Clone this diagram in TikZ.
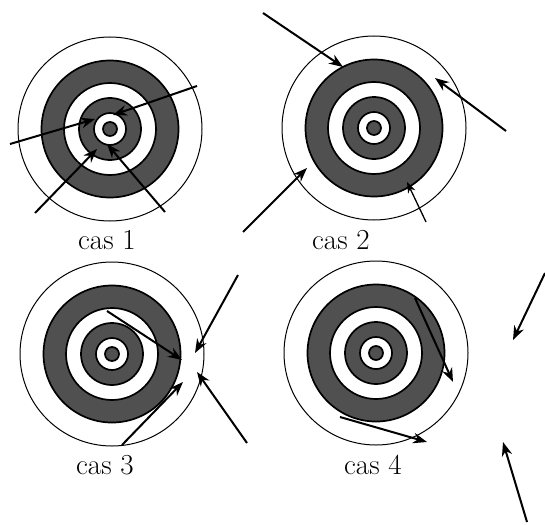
\documentclass[tikz,border=0pt]{standalone}
\usetikzlibrary{arrows.meta}
\definecolor{ringgray}{RGB}{80,80,80}
\tikzset{
  outerring/.style={line width=1pt},
  band/.style={line width=1.7pt},
  shot/.style={line width=2pt, -{Stealth[length=14pt,width=10.5pt,inset=4.5pt]}},
  thinshot/.style={line width=1.3pt, -{Stealth[length=11pt,width=8pt,inset=3.5pt]}},
  caslabel/.style={anchor=base, inner sep=0pt, font=\fontsize{29}{35}\selectfont},
  target/.pic={
    \draw[outerring] (0,0) circle[radius=92];
    \draw[band, fill=ringgray] (0,0) circle[radius=68.5];
    \draw[band, fill=white] (0,0) circle[radius=46];
    \draw[band, fill=ringgray] (0,0) circle[radius=31];
    \draw[band, fill=white] (0,0) circle[radius=16];
    \draw[band, fill=ringgray] (0,0) circle[radius=7];
  }
}
\begin{document}
\begin{tikzpicture}[x=1pt,y=-1pt]
\useasboundingbox (0,0) rectangle (545,524);
% targets
\pic at (110,129) {target};
\pic at (374,128) {target};
\pic at (112,354) {target};
\pic at (376,353) {target};
% labels
\node[caslabel] (l1) at (107,249) {cas 1};
\node[caslabel] (l2) at (341,249) {cas 2};
\node[caslabel] (l3) at (105,474) {cas 3};
\node[caslabel] (l4) at (373,474) {cas 4};
% case 1
\coordinate (a1) at (10,144);  \coordinate (a2) at (95,119);
\coordinate (b1) at (197,86);  \coordinate (b2) at (113,115);
\coordinate (c1) at (35,213);  \coordinate (c2) at (97,149);
\coordinate (d1) at (165,212); \coordinate (d2) at (107,144);
\draw[shot] (a1) -- (a2);
\draw[shot] (b1) -- (b2);
\draw[shot] (c1) -- (c2);
\draw[shot] (d1) -- (d2);
% case 2
\coordinate (e1) at (263,13);  \coordinate (e2) at (343,67);
\coordinate (f1) at (506,131); \coordinate (f2) at (435,78);
\coordinate (g1) at (243,232); \coordinate (g2) at (307,168);
\coordinate (h1) at (426,222); \coordinate (h2) at (407,182);
\draw[shot] (e1) -- (e2);
\draw[shot] (f1) -- (f2);
\draw[shot] (g1) -- (g2);
\draw[thinshot] (h1) -- (h2);
% case 3
\coordinate (i1) at (107,311); \coordinate (i2) at (182,360);
\coordinate (j1) at (238,275); \coordinate (j2) at (195,353);
\coordinate (k1) at (247,443); \coordinate (k2) at (197,372);
\coordinate (m1) at (122,445); \coordinate (m2) at (183,382);
\draw[shot] (i1) -- (i2);
\draw[shot] (j1) -- (j2);
\draw[shot] (k1) -- (k2);
\draw[shot] (m1) -- (m2);
% case 4
\coordinate (n1) at (415,298); \coordinate (n2) at (453,382);
\coordinate (o1) at (340,417); \coordinate (o2) at (427,442);
\coordinate (p1) at (545,273); \coordinate (p2) at (513,340);
\coordinate (q1) at (527,522); \coordinate (q2) at (503,442);
\draw[shot] (n1) -- (n2);
\draw[shot] (o1) -- (o2);
\draw[shot] (p1) -- (p2);
\draw[shot] (q1) -- (q2);
\end{tikzpicture}
\end{document}
